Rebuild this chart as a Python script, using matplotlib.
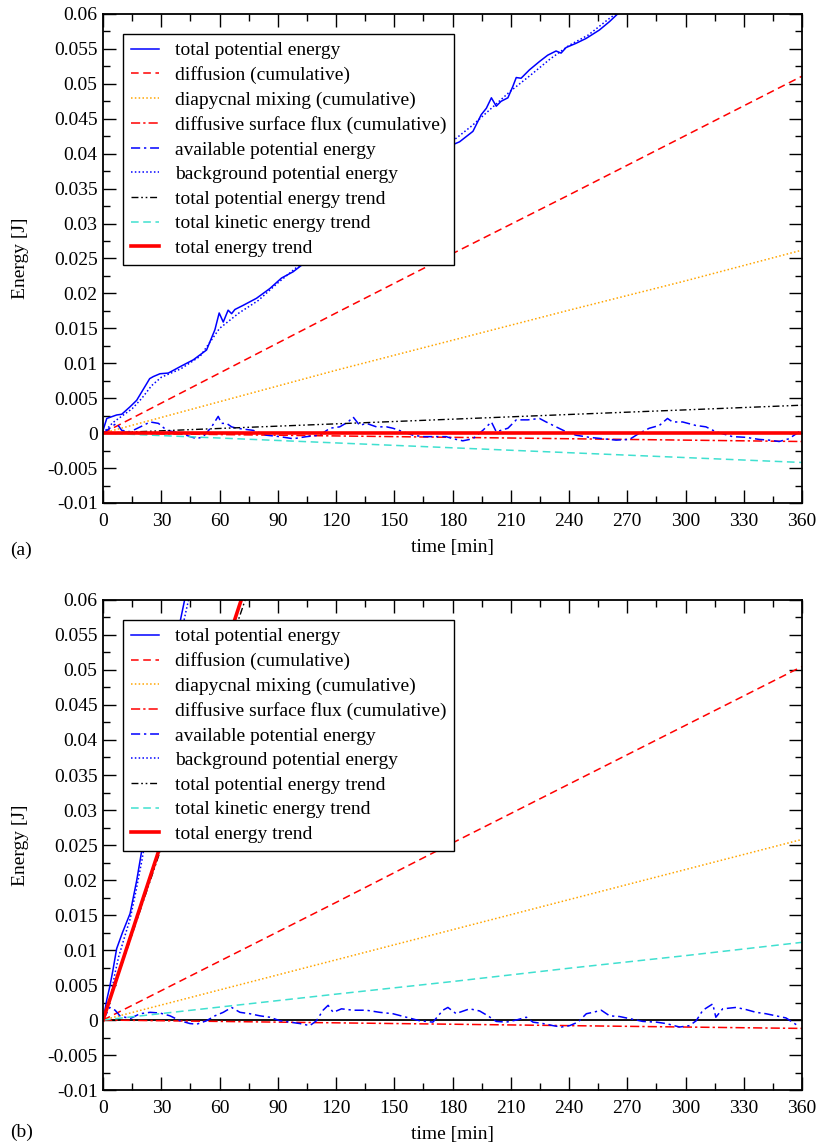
import numpy as np
import matplotlib
matplotlib.use('Agg')
import matplotlib.pyplot as plt
from matplotlib.ticker import MultipleLocator, FuncFormatter

plt.rcParams['font.family'] = ['Liberation Serif', 'DejaVu Serif']
plt.rcParams['font.size'] = 14
plt.rcParams['axes.unicode_minus'] = False

# ---- panel (a) ----
a_tpe_t = [0, 1.9, 7, 9.6, 14, 17.3, 22.5, 24, 25.9, 29.3, 33.6, 39.6, 46.5, 53.3, 57.6, 59.8,
           61.9, 64.4, 66.2, 67.9, 72.2, 79, 85.9, 91.9, 97.9, 103, 140, 180.2, 183.6, 190.5,
           194.8, 197.4, 200, 202.5, 205, 208.5, 211, 212.8, 215.3, 219.6, 224.8, 229, 233.3,
           235.9, 238.5, 243.6, 248.8, 255.6, 260.8, 265, 280, 360]
a_tpe_e = [0.0004, 0.0021, 0.0026, 0.0027, 0.0038, 0.0047, 0.0071, 0.0078, 0.0081, 0.0085,
           0.0086, 0.0095, 0.0105, 0.0119, 0.0148, 0.0172, 0.0159, 0.0176, 0.0171, 0.0177,
           0.0183, 0.0193, 0.0207, 0.0222, 0.0231, 0.0242, 0.033, 0.0413, 0.0417, 0.0432,
           0.0456, 0.0465, 0.0480, 0.0468, 0.0475, 0.0480, 0.0496, 0.0509, 0.0508, 0.0520,
           0.0532, 0.0541, 0.0547, 0.0544, 0.0552, 0.0558, 0.0565, 0.0577, 0.0589, 0.0600,
           0.063, 0.08]

a_bpe_t = [0, 5, 10, 15, 20, 25, 30, 40, 50, 60, 70, 80, 90, 100, 140, 180, 190, 200, 210,
           220, 230, 240, 250, 260, 265, 280, 360]
a_bpe_e = [0, 0.0015, 0.0025, 0.0035, 0.0050, 0.0068, 0.0080, 0.0092, 0.0110, 0.0150, 0.0172,
           0.0190, 0.0215, 0.0238, 0.033, 0.0418, 0.0440, 0.0465, 0.0490, 0.0512, 0.0535,
           0.0555, 0.0570, 0.0592, 0.0602, 0.063, 0.08]

a_ape_t = [0, 1, 5.3, 7, 9.6, 14, 20.7, 24.2, 28.5, 32.8, 39.6, 48.2, 51.6, 55.9, 59.3, 61,
           63.6, 66.2, 68.8, 77.3, 84.2, 91, 97.9, 104.8, 111.6, 116.8, 121.9, 126.2, 128.8,
           132.2, 135.6, 140.8, 146, 149.3, 154.5, 159.6, 164.8, 170, 176.7, 180.2, 185.3,
           190.5, 195.6, 200, 202.5, 208.5, 212.8, 218.8, 224.8, 228.2, 233.3, 238.5, 243.6,
           250.5, 257.4, 264.2, 271.1, 276.3, 281.3, 286.5, 290.7, 293.3, 298.5, 305.3, 310.5,
           315.6, 324.2, 331.1, 337.9, 343.1, 348.2, 353.3, 358.5]
a_ape_e = [0, 0.0002, 0.0011, 0.0014, 0.0004, 0.0002, 0.0011, 0.0016, 0.0014, 0.0004, 0,
           -0.0008, -0.0005, 0.0009, 0.0024, 0.0014, 0.0014, 0.0009, 0.0007, 0.0004, -0.0003,
           -0.0005, -0.0008, -0.0005, -0.0003, 0.0007, 0.0009, 0.0016, 0.0023, 0.0011, 0.0014,
           0.0009, 0.0009, 0.0007, 0.0002, -0.0003, -0.0005, -0.0005, -0.0005, -0.0008,
           -0.0011, -0.0008, 0.0004, 0.0016, 0.0002, 0.0007, 0.0019, 0.0019, 0.0021, 0.0016,
           0.0009, 0.0002, -0.0003, -0.0006, -0.0008, -0.0010, -0.0009, 0, 0.0007, 0.0011,
           0.0021, 0.0016, 0.0016, 0.0011, 0.0009, 0.0002, -0.0005, -0.0006, -0.0009, -0.0010,
           -0.0012, -0.0008, 0.0002]

lin_t = [0, 60, 120, 180, 240, 300, 360]
a_diff = [0, 0.0086, 0.0172, 0.0257, 0.0341, 0.0426, 0.0511]
a_mix = [0, 0.0045, 0.0090, 0.0133, 0.0176, 0.0218, 0.0262]
a_surf = [0, -0.0002, -0.0004, -0.0006, -0.0008, -0.0010, -0.0012]
a_tpe_trend = [0, 0.00067, 0.00133, 0.0020, 0.00267, 0.00333, 0.0040]
a_tke_trend = [0, -0.0007, -0.0014, -0.0021, -0.0028, -0.0035, -0.0042]
a_te_trend = [0, 0, 0, 0, 0, 0, 0]

# ---- panel (b) ----
b_tpe_t = [0, 2, 3.4, 5, 7, 10, 13.9, 17.3, 19.5, 39.6, 42, 50]
b_tpe_e = [0, 0.003, 0.0047, 0.007, 0.0102, 0.0125, 0.0152, 0.0199, 0.0235, 0.0568, 0.06, 0.071]
b_bpe_t = [0, 2, 4, 6, 8, 11, 14, 17, 20, 30, 40, 44, 50]
b_bpe_e = [0, 0.0015, 0.0035, 0.0065, 0.009, 0.0118, 0.0145, 0.0185, 0.0228, 0.039, 0.055, 0.06, 0.069]

b_ape_t = [0, 3.4, 6.2, 8.7, 13.9, 19, 24.2, 29.3, 34.5, 39.6, 44.7, 48.2, 53.3, 57.6, 61.9,
           66.2, 70.5, 75.6, 80.8, 85.9, 91, 96.2, 101.3, 106.5, 109.9, 113.3, 115.9, 118.5,
           122.8, 128.8, 135.6, 142.5, 149.3, 156.2, 163, 169.9, 175, 177.6, 181.9, 183.6,
           188.8, 193.9, 198.2, 202.5, 207.7, 212.8, 218, 221.4, 226.5, 231.7, 236, 240.3,
           244.6, 248.9, 252.3, 256.6, 260.9, 266, 271.2, 278, 284.9, 290, 296.9, 302, 305.5,
           308.9, 314, 315.6, 319.1, 326, 331.1, 336.3, 341.4, 346.6, 351.7, 355.1, 357.7]
b_ape_e = [0, 0.0018, 0.0014, 0.0006, 0.0002, 0.0009, 0.0011, 0.0010, 0.0006, -0.0001,
           -0.0005, -0.0006, -0.0001, 0.0006, 0.0011, 0.0018, 0.0011, 0.0009, 0.0006, 0.0004,
           -0.0001, -0.0003, -0.0005, -0.0008, -0.0001, 0.0014, 0.0021, 0.0011, 0.0016,
           0.0014, 0.0014, 0.0011, 0.0009, 0.0004, -0.0001, -0.0003, 0.0014, 0.0018, 0.0009,
           0.0011, 0.0016, 0.0013, 0.0006, -0.0002, -0.0003, 0, 0.0004, -0.0003, -0.0005,
           -0.0008, -0.0010, -0.0008, -0.0003, 0.0009, 0.0011, 0.0014, 0.0006, 0.0005, 0.0002,
           -0.0002, -0.0003, -0.0005, -0.0010, -0.0008, -0.0001, 0.0014, 0.0023, 0.0004,
           0.0016, 0.0018, 0.0015, 0.0011, 0.0009, 0.0006, 0.0003, -0.0003, -0.0008]

b_diff = [0, 0.0084, 0.0168, 0.0253, 0.0337, 0.0421, 0.0505]
b_mix = [0, 0.0043, 0.0086, 0.0129, 0.0172, 0.0215, 0.0258]
b_surf = [0, -0.0002, -0.0004, -0.0006, -0.0008, -0.0010, -0.0012]
b_tke_trend = [0, 0.00185, 0.0037, 0.0055, 0.0074, 0.0092, 0.0111]
b_trend_t = [0, 30, 60, 90]
b_tpe_trend = [0, 0.0246, 0.0492, 0.0738]
b_te_trend = [0, 0.0253, 0.0506, 0.0759]

labels = ['total potential energy', 'diffusion (cumulative)', 'diapycnal mixing (cumulative)',
          'diffusive surface flux (cumulative)', 'available potential energy',
          'background potential energy', 'total potential energy trend',
          'total kinetic energy trend', 'total energy trend']

BLUE = '#0000ff'
RED = '#ff0000'
ORANGE = '#ffa500'
CYAN = '#40e0d0'


def draw(ax, tpe, diff, mix, surf, ape, bpe, tpe_tr, tke_tr, te_tr):
    ax.axhline(0, color='black', lw=1.3, zorder=1)
    ax.plot(*tpe, color=BLUE, lw=1.1, label=labels[0])
    ax.plot(*diff, color=RED, lw=1.1, dashes=(5, 3), label=labels[1])
    ax.plot(*mix, color=ORANGE, lw=1.1, dashes=(1, 1.5), label=labels[2])
    ax.plot(*surf, color=RED, lw=1.1, dashes=(6, 2, 1.5, 2), label=labels[3])
    ax.plot(*ape, color=BLUE, lw=1.1, dashes=(6, 2.5, 1.5, 2.5), label=labels[4])
    ax.plot(*bpe, color=BLUE, lw=1.1, dashes=(1, 1.5), label=labels[5])
    ax.plot(*tpe_tr, color='black', lw=1.0, dashes=(5, 2, 1.2, 2, 1.2, 2), label=labels[6])
    ax.plot(*tke_tr, color=CYAN, lw=1.1, dashes=(5, 3), label=labels[7])
    ax.plot(*te_tr, color=RED, lw=2.6, label=labels[8])

    ax.set_xlim(0, 360)
    ax.set_ylim(-0.01, 0.06)
    ax.xaxis.set_major_locator(MultipleLocator(30))
    ax.xaxis.set_minor_locator(MultipleLocator(15))
    ax.yaxis.set_major_locator(MultipleLocator(0.005))
    ax.yaxis.set_minor_locator(MultipleLocator(0.0025))
    ax.yaxis.set_major_formatter(FuncFormatter(lambda v, p: '%g' % round(v, 4)))
    ax.tick_params(which='both', direction='in', top=True, right=True, width=1.0)
    ax.tick_params(which='major', length=9.5)
    ax.tick_params(which='minor', length=5)
    ax.tick_params(axis='x', pad=7)
    ax.tick_params(axis='y', pad=4)
    for s in ax.spines.values():
        s.set_linewidth(1.3)
    ax.set_ylabel('Energy [J]', labelpad=13)
    ax.set_xlabel('time [min]', labelpad=7)

    leg = ax.legend(loc='upper left', bbox_to_anchor=(0.029, 0.959), fancybox=False,
                    edgecolor='black', framealpha=1, handlelength=1.45,
                    handletextpad=0.8, labelspacing=0.36, borderpad=0.4,
                    borderaxespad=0)
    leg.get_frame().set_linewidth(1.0)


fig = plt.figure(figsize=(8.18, 11.45), dpi=100)
ax1 = fig.add_axes([0.126, 0.5607, 0.8545, 0.4271])
ax2 = fig.add_axes([0.126, 0.0480, 0.8545, 0.4280])

draw(ax1, (a_tpe_t, a_tpe_e), (lin_t, a_diff), (lin_t, a_mix), (lin_t, a_surf),
     (a_ape_t, a_ape_e), (a_bpe_t, a_bpe_e), (lin_t, a_tpe_trend), (lin_t, a_tke_trend),
     (lin_t, a_te_trend))
draw(ax2, (b_tpe_t, b_tpe_e), (lin_t, b_diff), (lin_t, b_mix), (lin_t, b_surf),
     (b_ape_t, b_ape_e), (b_bpe_t, b_bpe_e), (b_trend_t, b_tpe_trend), (lin_t, b_tke_trend),
     (b_trend_t, b_te_trend))

fig.text(0.012, 1 - 550 / 1145, '(a)', va='center', ha='left')
fig.text(0.012, 1 - 1132 / 1145, '(b)', va='center', ha='left')

fig.savefig('out.png', dpi=100)
